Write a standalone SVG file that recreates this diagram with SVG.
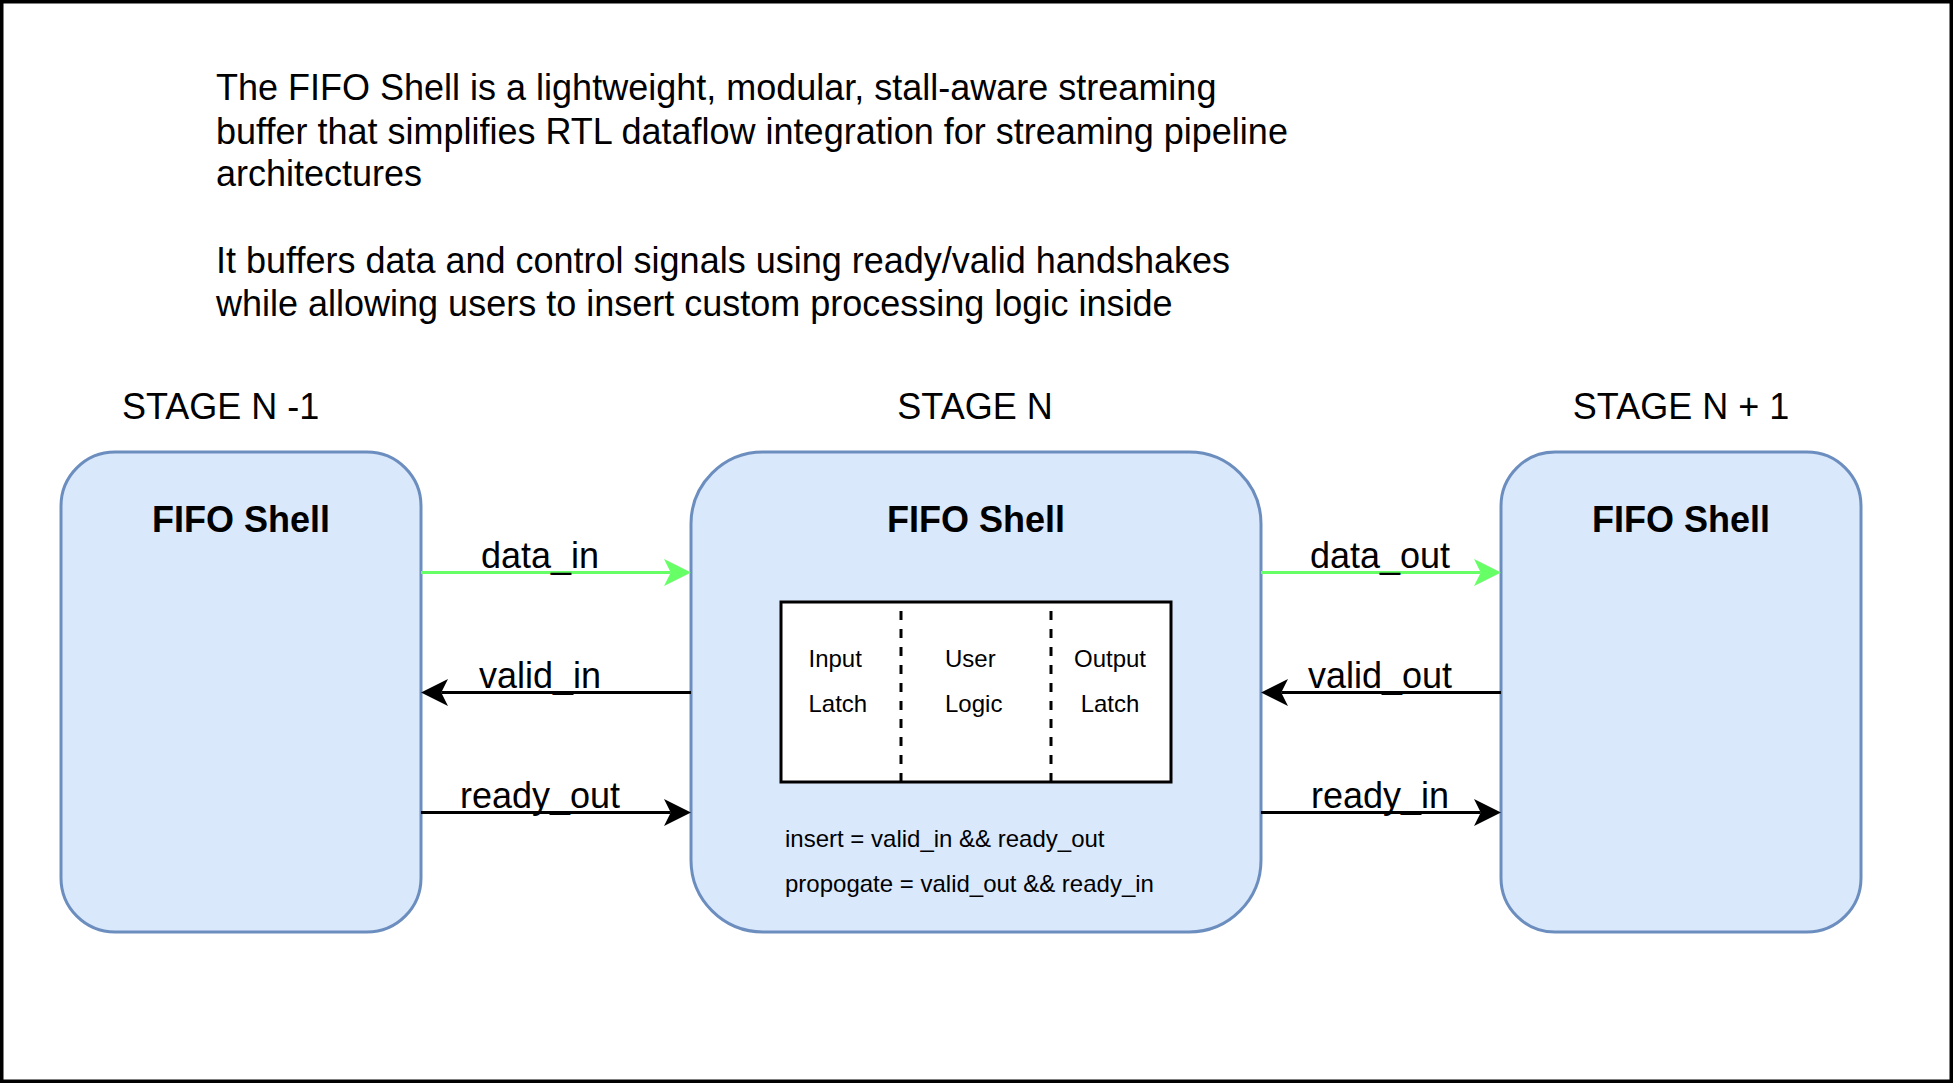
<svg xmlns="http://www.w3.org/2000/svg" width="1953" height="1083" viewBox="0 0 1953 1083">
  <style>
    text { font-family: "Liberation Sans", Arial, sans-serif; fill: #000; }
    .t36 { font-size: 36px; }
    .bold { font-size: 36px; font-weight: bold; }
    .t24 { font-size: 24px; }
    .shell { fill: #dae8fc; stroke: #6c8ebf; stroke-width: 3; }
    .inner { fill: #ffffff; stroke: #000; stroke-width: 3; }
    .div { fill: none; stroke: #000; stroke-width: 3; stroke-dasharray: 9 9; }
    .wire { fill: none; stroke: #000; stroke-width: 3; }
    .wire-g { fill: none; stroke: #66ff66; stroke-width: 3; }
  </style>
  <defs>
    <marker id="ahB" viewBox="-8 -15 30 30" refX="0" refY="0" markerWidth="30" markerHeight="30" markerUnits="userSpaceOnUse" orient="auto">
      <path d="M20.25,0 L-6.75,-13.5 L0,0 L-6.75,13.5 Z" fill="#000"/>
    </marker>
    <marker id="ahG" viewBox="-8 -15 30 30" refX="0" refY="0" markerWidth="30" markerHeight="30" markerUnits="userSpaceOnUse" orient="auto">
      <path d="M20.25,0 L-6.75,-13.5 L0,0 L-6.75,13.5 Z" fill="#66ff66"/>
    </marker>
  </defs>

  <rect x="1.75" y="1.75" width="1949.5" height="1079.5" fill="#ffffff" stroke="#000" stroke-width="3.5"/>

  <g id="description">
    <text class="t36" x="216" y="100">The FIFO Shell is a lightweight, modular, stall-aware streaming</text>
    <text class="t36" x="216" y="144">buffer that simplifies RTL dataflow integration for streaming pipeline</text>
    <text class="t36" x="216" y="186">architectures</text>
    <text class="t36" x="216" y="273">It buffers data and control signals using ready/valid handshakes</text>
    <text class="t36" x="216" y="315.5">while allowing users to insert custom processing logic inside</text>
  </g>

  <g id="stage-labels">
    <text class="t36" x="122" y="418.5">STAGE N -1</text>
    <text class="t36" x="975" y="418.5" text-anchor="middle">STAGE N</text>
    <text class="t36" x="1681" y="418.5" text-anchor="middle">STAGE N + 1</text>
  </g>

  <g id="stage-n-minus-1">
    <rect class="shell" x="61" y="452" width="360" height="480" rx="54" ry="54"/>
    <text class="bold" x="241" y="532" text-anchor="middle">FIFO Shell</text>
  </g>

  <g id="stage-n">
    <rect class="shell" x="691" y="452" width="570" height="480" rx="72" ry="72"/>
    <text class="bold" x="976" y="532" text-anchor="middle">FIFO Shell</text>
    <g id="inner-pipeline">
      <rect class="inner" x="781" y="602" width="390" height="180"/>
      <path class="div" d="M901,782 V602"/>
      <path class="div" d="M1051,782 V602"/>
      <text class="t24" x="808.5" y="666.5">Input</text>
      <text class="t24" x="808.5" y="712">Latch</text>
      <text class="t24" x="945" y="666.5">User</text>
      <text class="t24" x="945" y="712">Logic</text>
      <text class="t24" x="1110" y="666.5" text-anchor="middle">Output</text>
      <text class="t24" x="1110" y="712" text-anchor="middle">Latch</text>
    </g>
    <text class="t24" x="785" y="847">insert = valid_in &amp;&amp; ready_out</text>
    <text class="t24" x="785" y="892">propogate = valid_out &amp;&amp; ready_in</text>
  </g>

  <g id="stage-n-plus-1">
    <rect class="shell" x="1501" y="452" width="360" height="480" rx="54" ry="54"/>
    <text class="bold" x="1681" y="532" text-anchor="middle">FIFO Shell</text>
  </g>

  <g id="connectors">
    <path class="wire-g" d="M421,572.5 H670.75" marker-end="url(#ahG)"/>
    <path class="wire" d="M691,692.5 H441.25" marker-end="url(#ahB)"/>
    <path class="wire" d="M421,812.5 H670.75" marker-end="url(#ahB)"/>
    <path class="wire-g" d="M1261,572.5 H1480.75" marker-end="url(#ahG)"/>
    <path class="wire" d="M1501,692.5 H1281.25" marker-end="url(#ahB)"/>
    <path class="wire" d="M1261,812.5 H1480.75" marker-end="url(#ahB)"/>
    <text class="t36" x="540" y="568" text-anchor="middle">data_in</text>
    <text class="t36" x="540" y="688" text-anchor="middle">valid_in</text>
    <text class="t36" x="540" y="808" text-anchor="middle">ready_out</text>
    <text class="t36" x="1380" y="568" text-anchor="middle">data_out</text>
    <text class="t36" x="1380" y="688" text-anchor="middle">valid_out</text>
    <text class="t36" x="1380" y="808" text-anchor="middle">ready_in</text>
  </g>
</svg>
